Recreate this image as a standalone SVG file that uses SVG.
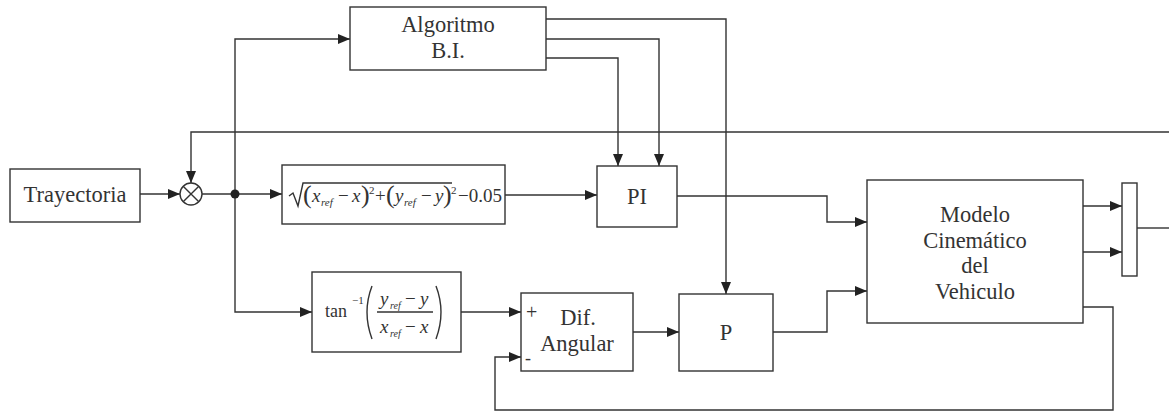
<svg xmlns="http://www.w3.org/2000/svg" width="1169" height="413" viewBox="0 0 1169 413">
<defs>
<marker id="ah" viewBox="0 0 12 10" refX="12" refY="5" markerWidth="12" markerHeight="10" markerUnits="userSpaceOnUse" orient="auto">
<path d="M0,0 L12,5 L0,10 Z" fill="#222"/>
</marker>
</defs>
<style>
.box{fill:#fff;stroke:#333;stroke-width:1.4}
.ln{fill:none;stroke:#333;stroke-width:1.4}
.ar{fill:none;stroke:#333;stroke-width:1.4;marker-end:url(#ah)}
.t{font-family:"Liberation Serif","Times New Roman",serif;font-size:22.5px;fill:#333;text-anchor:middle}
.m{font-family:"Liberation Serif","Times New Roman",serif;font-style:italic;fill:#333}
.r{font-family:"Liberation Serif","Times New Roman",serif;fill:#333}
</style>
<rect width="1169" height="413" fill="#fff"/>
<g id="connectors">
<path class="ar" d="M140,194 H180"/>
<path class="ar" d="M1169,132 H191 V183"/>
<path class="ln" d="M202,194 H235"/>
<path class="ar" d="M235,194 H282"/>
<path class="ar" d="M235,194 V39 H350"/>
<path class="ar" d="M235,194 V312 H312"/>
<path class="ar" d="M505,195 H597"/>
<path class="ar" d="M546,19 H726 V294"/>
<path class="ar" d="M546,39 H659 V166"/>
<path class="ar" d="M546,58 H618 V166"/>
<path class="ar" d="M677,196 H827 V222 H867"/>
<path class="ar" d="M461,312 H521"/>
<path class="ar" d="M633,332 H679"/>
<path class="ar" d="M773,332 H827 V291 H867"/>
<path class="ar" d="M1083,206 H1122"/>
<path class="ar" d="M1083,252 H1122"/>
<path class="ln" d="M1137,228 H1169"/>
<path class="ar" d="M1083,307 H1113 V410 H495 V357 H521"/>
<circle cx="235" cy="194" r="4.5" fill="#222"/>
</g>
<g id="trayectoria">
<rect class="box" x="10" y="169" width="130" height="53"/>
<text class="t" x="75" y="202">Trayectoria</text>
</g>
<g id="suma">
<circle cx="191" cy="194" r="11" fill="#fff" stroke="#333" stroke-width="1.4"/>
<path class="ln" d="M183.2,186.2 L198.8,201.8 M198.8,186.2 L183.2,201.8"/>
</g>
<g id="algoritmo">
<rect class="box" x="350" y="7" width="196" height="63"/>
<text class="t" x="448" y="32">Algoritmo</text>
<text class="t" x="448" y="58">B.I.</text>
</g>
<g id="distancia">
<rect class="box" x="282" y="165" width="223" height="59"/>
<path class="ln" d="M289,196 L293,193 L298,206 L303,183 H452" stroke-width="1.2"/>
<text class="r" x="303" y="203" font-size="26">(</text>
<text class="m" x="312" y="202" font-size="19">x</text>
<text class="m" x="321" y="206" font-size="11">ref</text>
<text class="r" x="338" y="202" font-size="19">−</text>
<text class="m" x="352" y="202" font-size="19">x</text>
<text class="r" x="361" y="203" font-size="26">)</text>
<text class="r" x="369" y="194" font-size="11">2</text>
<text class="r" x="375" y="202" font-size="19">+</text>
<text class="r" x="386" y="203" font-size="26">(</text>
<text class="m" x="395" y="202" font-size="19">y</text>
<text class="m" x="404" y="206" font-size="11">ref</text>
<text class="r" x="421" y="202" font-size="19">−</text>
<text class="m" x="435" y="202" font-size="19">y</text>
<text class="r" x="443" y="203" font-size="26">)</text>
<text class="r" x="451" y="194" font-size="11">2</text>
<text class="r" x="458" y="202" font-size="19">−0.05</text>
</g>
<g id="angulo">
<rect class="box" x="312" y="272" width="149" height="80"/>
<text class="r" x="325" y="317" font-size="18">tan</text>
<text class="r" x="352" y="304" font-size="11">−1</text>
<path class="ln" d="M372,286 Q362,312 372,339" stroke-width="1.2"/>
<path class="ln" d="M436,286 Q446,312 436,339" stroke-width="1.2"/>
<path class="ln" d="M377,312 H433" stroke-width="1.2"/>
<text class="m" x="380" y="305" font-size="19">y</text>
<text class="m" x="390" y="309" font-size="10">ref</text>
<text class="r" x="405" y="305" font-size="19">−</text>
<text class="m" x="420" y="305" font-size="19">y</text>
<text class="m" x="380" y="333" font-size="19">x</text>
<text class="m" x="390" y="337" font-size="10">ref</text>
<text class="r" x="405" y="333" font-size="19">−</text>
<text class="m" x="420" y="333" font-size="19">x</text>
</g>
<g id="pi">
<rect class="box" x="597" y="166" width="80" height="61"/>
<text class="t" x="637" y="204">PI</text>
</g>
<g id="difangular">
<rect class="box" x="521" y="293" width="112" height="78"/>
<text class="t" x="578" y="325">Dif.</text>
<text class="t" x="577" y="351">Angular</text>
<text class="r" x="526" y="319" font-size="20">+</text>
<text class="r" x="525" y="364" font-size="18">-</text>
</g>
<g id="p">
<rect class="box" x="679" y="294" width="94" height="77"/>
<text class="t" x="726" y="340">P</text>
</g>
<g id="modelo">
<rect class="box" x="867" y="180" width="216" height="143"/>
<text class="t" x="975" y="222">Modelo</text>
<text class="t" x="975" y="248">Cinemático</text>
<text class="t" x="975" y="273">del</text>
<text class="t" x="975" y="299">Vehiculo</text>
</g>
<g id="mux">
<rect class="box" x="1122" y="183" width="15" height="93"/>
</g>
</svg>
